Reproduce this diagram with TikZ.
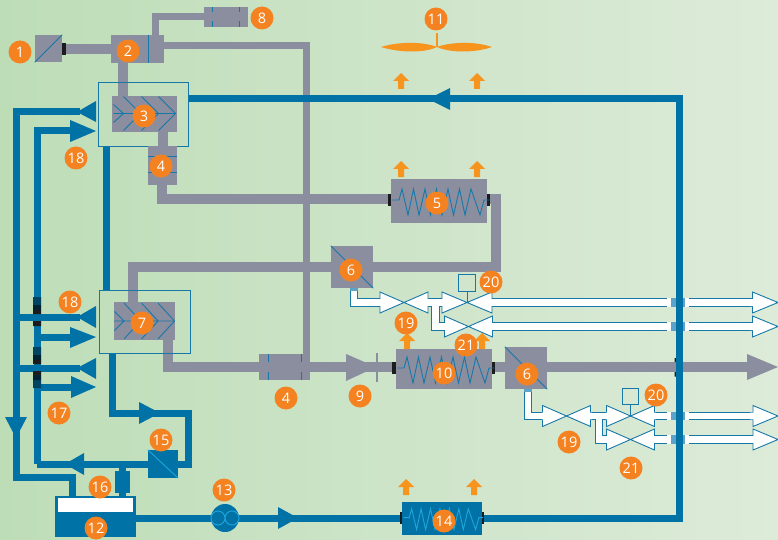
\documentclass[tikz,border=0pt]{standalone}
\usepackage{fontspec}
\setmainfont{Open Sans}
\usetikzlibrary{calc}
\definecolor{gasgray}{HTML}{8B8E9F}
\definecolor{oilblue}{HTML}{0072A6}
\definecolor{thinblue}{HTML}{1678A8}
\definecolor{lightblue}{HTML}{1FA5DC}
\definecolor{capblue}{HTML}{5BA3C8}
\definecolor{tagorange}{HTML}{F58220}
\definecolor{arroworange}{HTML}{F7941E}
\definecolor{bgleft}{HTML}{BDDDB7}
\definecolor{bgright}{HTML}{DDEBD9}
\definecolor{tick}{HTML}{1C1C1E}
\pgfdeclarelayer{pgray}\pgfdeclarelayer{pblue}\pgfdeclarelayer{ptop}
\pgfsetlayers{pgray,pblue,ptop,main}
\tikzset{
  tag/.style={circle,fill=tagorange,text=white,inner sep=0pt,minimum size=23pt,font=\fontsize{14.5}{15}\selectfont},
  graybox/.style={fill=gasgray,inner sep=0pt,minimum width=#1},
  bluebox/.style={fill=oilblue,inner sep=0pt,minimum width=#1},
  frame/.style={draw=thinblue,line width=0.9pt,fill=none,inner sep=0pt,minimum width=#1},
  gas/.style={draw=gasgray,line width=10.5pt,line join=miter},
  gasthin/.style={draw=gasgray,line width=7pt,line join=miter},
  oil/.style={draw=oilblue,line width=7pt,line join=miter},
  thin/.style={draw=thinblue,line width=0.9pt},
  whiteouter/.style={draw=thinblue,line width=8.6pt,line join=miter},
  whiteinner/.style={draw=white,line width=6.8pt,line join=miter},
  valve/.style={fill=white,draw=thinblue,line width=0.9pt,line join=miter},
  coil/.pic={
    \draw[pic actions,line width=0.9pt,fill=none] (-47,-3) -- ++(7,0) -- ++(3,-11)
      -- ++(6,26) -- ++(5.5,-26) -- ++(5.5,26) -- ++(6,-26) -- ++(5.5,26) -- ++(6,-26)
      -- ++(5.5,26) -- ++(6,-26) -- ++(5.5,26) -- ++(6,-26) -- ++(5.5,26) -- ++(6,-26) -- ++(9,26) -- ++(4,-15) -- ++(5,0);
  },
  chev/.pic={
    \draw[thin] (-31,0) -- (31,0)
      (-31,-9) -- (-21,0) -- (-31,9)
      (-21,-17) -- (-4,0) -- (-21,17)
      (-3,-17) -- (14,0) -- (-3,17)
      (14,-17) -- (31,0) -- (14,17);
  },
  upA/.pic={
    \fill[arroworange] (0,-8) -- (8,0) -- (3,0) -- (3,8) -- (-3,8) -- (-3,0) -- (-8,0) -- cycle;
  },
  valvepair/.pic={
    \draw[valve] (-24,-10.5) -- (-24,10.5) -- (0,0) -- cycle;
    \draw[valve] (24,-10.5) -- (24,10.5) -- (0,0) -- cycle;
    \fill[white] (-25,-3.4) rectangle (-23,3.4) (23,-3.4) rectangle (25,3.4);
  },
}
\begin{document}
\begin{tikzpicture}[x=1pt,y=-1pt]
\useasboundingbox (0,0) rectangle (778,540);
\begin{pgfonlayer}{pgray}
\shade[left color=bgleft,right color=bgright] (0,0) rectangle (778,540);
\end{pgfonlayer}

% components
\node[graybox=27pt,minimum height=27pt] (c1) at (48.5,48.5) {};
\node[graybox=53pt,minimum height=28pt] (c2) at (137.5,49) {};
\node[graybox=44pt,minimum height=20pt] (c8) at (226,17) {};
\node[graybox=65pt,minimum height=36pt] (c3) at (144.5,114) {};
\node[frame=90pt,minimum height=64pt] (f3) at (143,114) {};
\node[graybox=29pt,minimum height=39pt] (c4a) at (162.5,165.5) {};
\node[graybox=96pt,minimum height=44pt] (c5) at (439,201) {};
\node[graybox=42pt,minimum height=42pt] (c6a) at (352,267) {};
\node[graybox=61pt,minimum height=38pt] (c7) at (144.5,321) {};
\node[frame=91pt,minimum height=63pt] (f7) at (144.5,321.5) {};
\node[graybox=51pt,minimum height=26pt] (c4b) at (284.5,367) {};
\node[graybox=96pt,minimum height=40pt] (c10) at (444,369) {};
\node[graybox=42pt,minimum height=42pt] (c6b) at (526,368) {};
\node[bluebox=81pt,minimum height=41pt] (c12) at (95.5,516.5) {};
\node[fill=white,inner sep=0pt,minimum width=75pt,minimum height=14pt] (c12w) at (95.5,505) {};
\node[circle,fill=oilblue,inner sep=0pt,minimum size=28pt] (c13) at (225,518) {};
\node[bluebox=80pt,minimum height=33pt] (c14) at (442,518.5) {};
\node[bluebox=30pt,minimum height=28pt] (c15) at (163,464) {};
\node[bluebox=15pt,minimum height=22pt] (c16) at (122.5,482) {};
\node[draw=thinblue,line width=0.9pt,inner sep=0pt,minimum size=16.5pt] (act1) at (467,283) {};
\node[draw=thinblue,line width=0.9pt,inner sep=0pt,minimum size=16.5pt] (act2) at (630.5,396.5) {};

% component details
\draw[thin] (c1.south west) -- (c1.north east);
\draw[thin] (148,35) -- (148,63);
\draw[thin] (212,7) -- (212,12.5) (212,21.5) -- (212,27) (239,7) -- (239,12.5) (239,21.5) -- (239,27);
\draw[thin] (148,156) -- (177,156) (148,172) -- (177,172);
\draw[thin] (268,354) -- (268,362) (268,372) -- (268,380) (301,354) -- (301,362) (301,372) -- (301,380);
\draw[thin] (c6a.north west) -- (c6a.south east);
\draw[thin] (c6b.north west) -- (c6b.south east);
\draw[draw=lightblue,line width=0.9pt] (c15.north west) -- (c15.south east);
\pic[thinblue,draw=thinblue] at (439,203) {coil};
\pic[thinblue,draw=thinblue] at (444,371) {coil};
\pic[draw=lightblue] at (442,520) [xscale=0.82,yscale=0.8] {coil};
\pic at (144.5,113.5) {chev};
\pic at (144.5,321) [xscale=0.97,yscale=1.05] {chev};
\draw[lightblue,line width=0.9pt] (218,518) circle (7) (232,518) circle (7);

% junction points
\coordinate (j2out) at (164,46);
\coordinate (j306t) at (306,46);
\coordinate (j306b) at (306,356);
\coordinate (j2up) at (155,36);
\coordinate (j155) at (155,17);
\coordinate (j162) at (162,199);
\coordinate (j5r) at (496,199);
\coordinate (j5b) at (496,267);
\coordinate (j133) at (133,267);
\coordinate (j168) at (168,367);
\coordinate (jtip) at (376,367);
\coordinate (jout) at (750,367);

\begin{pgfonlayer}{pgray}
\draw[gas] (c1.east |- 0,49) -- (c2.west |- 0,49);
\draw[gasthin] (j2out) -- (j306t) -- (j306b);
\draw[gasthin] (j2up) -- (j155) -- (c8.west |- j155);
\draw[gas] (123,63) -- (123,96);
\draw[gas] (163,132) -- (163,146);
\draw[gas] (j162 |- c4a.south) -- (j162) -- (c5.west |- j162);
\draw[gas] (c5.east |- j5r) -- (j5r) -- (j5b) -- (c6a.east |- j5b);
\draw[gas] (c6a.west |- j5b) -- (j133) -- (j133 |- c7.north);
\draw[gas] (j168 |- c7.south) -- (j168) -- (jtip);
\draw[gas] (jtip) -- (c10.west |- jtip);
\draw[gas] (c10.east |- jtip) -- (c6b.west |- jtip);
\fill[gasgray] (346,354) -- (376,367) -- (346,381) -- cycle;
\fill[gasgray] (375.5,353) rectangle (378,382);
\end{pgfonlayer}

\coordinate (m1) at (188,99);
\coordinate (m2) at (679,99);
\coordinate (m3) at (679,518);
\coordinate (k1) at (72,477);
\coordinate (k2) at (16,477);
\coordinate (k3) at (16,112);
\coordinate (k4) at (37,131);
\coordinate (k5) at (37,464);
\coordinate (k6) at (112,413);
\coordinate (k7) at (188,413);
\coordinate (k8) at (188,464);
\begin{pgfonlayer}{pblue}
\draw[oil] (m1) -- (m2) -- (m3) -- (c14.east |- m3);
\draw[oil] (c14.west |- m3) -- (c12.east |- m3);
\draw[oil] (k1 |- c12.north) -- (k1) -- (k2) -- (k3) -- (80,112);
\draw[oil] (k5) -- (k4) -- (72,131);
\draw[oil] (16,317) -- (80,317);
\draw[oil] (37,337) -- (72,337);
\draw[oil] (16,368) -- (80,368);
\draw[oil] (37,387) -- (72,387);
\draw[oil] (106,146) -- (106,290);
\draw[oil] (k6 |- f7.south) -- (k6) -- (k7) -- (k8) -- (c15.east |- k8);
\draw[oil] (c15.west |- k8) -- (k5);
\draw[oil] (c16.north |- k8) -- (c16.south |- c12.north);
\fill[oilblue] (96,101) -- (77,112) -- (96,122) -- cycle;
\fill[oilblue] (70,120) -- (96,131) -- (70,142) -- cycle;
\fill[oilblue] (96,306) -- (77,317) -- (96,328) -- cycle;
\fill[oilblue] (70,327) -- (96,337) -- (70,348) -- cycle;
\fill[oilblue] (96,358) -- (77,368) -- (96,379) -- cycle;
\fill[oilblue] (71,376) -- (96,387) -- (71,398) -- cycle;
\fill[oilblue] (139,402) -- (160,413) -- (139,424) -- cycle;
\fill[oilblue] (84,453) -- (65,464) -- (84,475) -- cycle;
\fill[oilblue] (5,417) -- (27,417) -- (16,438) -- cycle;
\fill[oilblue] (450,88) -- (428,99) -- (450,110) -- cycle;
\fill[oilblue] (278,507) -- (298,518) -- (278,529) -- cycle;
\end{pgfonlayer}

% white pipes and crossings
\coordinate (u0) at (354,290);
\coordinate (u1) at (354,302.5);
\coordinate (u2) at (435.5,302.5);
\coordinate (u3) at (435.5,326.5);
\coordinate (v0) at (528,392);
\coordinate (v1) at (528,416);
\coordinate (v2) at (599,416);
\coordinate (v3) at (599,439.5);
\begin{pgfonlayer}{ptop}
\draw[gas] (c6b.east |- jout) -- (jout);
\fill[gasgray] (747,354) -- (778,367) -- (747,380) -- cycle;
\fill[tick] (674.5,358) rectangle (682.5,362) (674.5,372) rectangle (682.5,376.5);
\fill[tick] (62,43) rectangle (66,55);
\foreach \x/\y in {390/200,488/200,394/368,493/368,402/518,482/518}
  \fill[tick] (\x-2,\y-6) rectangle (\x+2,\y+6);
% marks on the oil return
\fill[black!40!oilblue] (33,297) rectangle (41,305) (33,347) rectangle (41,355) (33,380) rectangle (41,388);
\fill[black!70!oilblue] (33,305) rectangle (41,310) (33,355) rectangle (41,360) (33,375) rectangle (41,380);
\fill[tick] (33,310) rectangle (41,314) (33,321) rectangle (41,326) (33,360) rectangle (41,364) (33,371) rectangle (41,375);
% white lines
\draw[whiteouter] (u0) -- (u1) -- (381,302.5);
\draw[whiteinner] (u0) -- (u1) -- (381,302.5);
\fill[capblue] (349.7,288) rectangle (358.3,291);
\draw[whiteouter] (u2) -- (u3) -- (445,326.5);
\draw[whiteouter] (428,302.5) -- (443,302.5);
\draw[whiteinner] (u2) -- (u3) -- (445,326.5);
\draw[whiteinner] (428,302.5) -- (443,302.5);
\draw[whiteouter] (491,302.5) -- (753,302.5);
\draw[whiteinner] (491,302.5) -- (753,302.5);
\draw[whiteouter] (492,326.5) -- (753,326.5);
\draw[whiteinner] (492,326.5) -- (753,326.5);
\draw[whiteouter] (v0) -- (v1) -- (543,416);
\draw[whiteinner] (v0) -- (v1) -- (543,416);
\fill[capblue] (523.7,389) rectangle (532.3,392);
\draw[whiteouter] (v2) -- (v3) -- (607,439.5);
\draw[whiteouter] (590,416) -- (606,416);
\draw[whiteinner] (v2) -- (v3) -- (607,439.5);
\draw[whiteinner] (590,416) -- (606,416);
\draw[whiteouter] (654,416) -- (754,416);
\draw[whiteinner] (654,416) -- (754,416);
\draw[whiteouter] (654,439.5) -- (754,439.5);
\draw[whiteinner] (654,439.5) -- (754,439.5);
\foreach \y in {302.5,326.5,416,439.5}{
  \fill[white] (667,\y-4.3) rectangle (689,\y+4.3);
  \fill[capblue] (671,\y-4.3) rectangle (685,\y+4.3);
}
\draw[oil] (679,296) -- (679,446);
\end{pgfonlayer}

% valves
\pic at (404,302.5) {valvepair};
\pic at (467,302.5) [xscale=1.04] {valvepair};
\pic at (468.5,326.5) {valvepair};
\pic at (566.5,416) {valvepair};
\pic at (630.5,416) {valvepair};
\pic at (630.5,439.5) {valvepair};
\draw[thin] (act1.south) -- (467,302.5);
\draw[thin] (act2.south) -- (630.5,416);
\draw[valve] (752.5,292) -- (778,302.5) -- (752.5,313) -- cycle;
\draw[valve] (752.5,316) -- (778,326.5) -- (752.5,337) -- cycle;
\draw[valve] (753,405.5) -- (778,416) -- (753,426.5) -- cycle;
\draw[valve] (753,429) -- (778,439.5) -- (753,450) -- cycle;
\fill[white] (750,299) rectangle (754,306) (750,323) rectangle (754,330)
  (750,412.6) rectangle (754.5,419.4) (750,436.1) rectangle (754.5,442.9);

% orange arrows
\foreach \x/\y in {401/81,477/81,401/169,477/169,407/341,482/341,406/487,474/487}
  \pic at (\x,\y) {upA};
% fan
\fill[arroworange] (381,47) .. controls (400,41) and (425,42) .. (437,47)
  .. controls (450,42) and (475,41) .. (492,47)
  .. controls (475,53) and (450,53) .. (437,47)
  .. controls (425,53) and (400,53) .. (381,47) -- cycle;
\fill[arroworange] (436,33) rectangle (438,47);

% numbered tags
\foreach \n/\x/\y/\t in {t1/20/52/1,t2/128/51/2,t3/144/116/3,t4a/161/166/4,t8/262/18/8,t11/436/19/11,
  t5/437/203/5,t6a/351/270/6,t18a/76/158/18,t18b/70/302/18,t7/142/323/7,t20a/491/282/20,t19a/406/323/19,
  t21a/466/345/21,t10/444/373/10,t6b/527/374/6,t9/360/396/9,t4b/286/398/4,t20b/656/395/20,t19b/569/442/19,
  t21b/631/468/21,t17/59/413/17,t15/161/440/15,t16/100/487/16,t13/224/490/13,t12/96/528/12,t14/444/521/14}
  \node[tag] (\n) at (\x,\y) {\t};
\end{tikzpicture}
\end{document}
